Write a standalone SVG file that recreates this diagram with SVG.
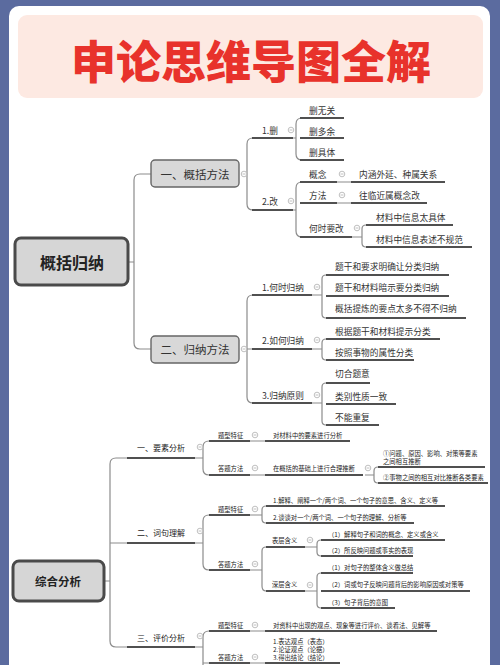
<svg xmlns="http://www.w3.org/2000/svg" xmlns:xlink="http://www.w3.org/1999/xlink" width="500" height="665" viewBox="0 0 500 665">
<style>
text{font-family:"Noto Sans CJK SC","Noto Sans",sans-serif;fill:#333;dominant-baseline:central}
.a{font-size:8.7px}
.s{font-size:6.3px;fill:#222}
.m{font-size:8px;fill:#222}
.l2{font-size:11.5px;text-anchor:middle}
.root{font-weight:bold;text-anchor:middle;fill:#222}
.c{fill:none;stroke:#8c8c8c;stroke-width:1.2}
.u{fill:none;stroke:#505050;stroke-width:1.9}
.box{fill:#d8d8d8;stroke:#666;stroke-width:1.4}
.rbox{fill:#d6d6d6;stroke:#4a4a4a;stroke-width:3}
</style>
<defs>
<g id="minus"><circle r="2.8" fill="#fff" stroke="#b0b0b0" stroke-width="0.8"/><path d="M-1.5,0H1.5" stroke="#b0b0b0" stroke-width="0.8"/></g>
</defs>
<rect width="500" height="665" fill="#5b6b9f"/>
<rect x="9" y="6" width="481" height="720" rx="10" fill="#fff"/>
<rect x="18" y="15" width="465" height="83" rx="9" fill="#fde9e2"/>
<text x="251" y="59" style="font-size:45px;font-weight:900;fill:#e8322b;text-anchor:middle">申论思维导图全解</text>

<g id="connectors">
<path class="c" d="M128,262H134M151,174H140Q134,174 134,180V343Q134,349 140,349H151"/>
<path class="c" d="M241,174H247M262,138H253Q247,138 247,144V204Q247,210 253,210H262"/>
<path class="c" d="M293,138H296M302,118Q296,118 296,124V154Q296,160 302,160"/>
<path class="c" d="M293,210H296M302,182Q296,182 296,188V231Q296,237 302,237"/>
<path class="c" d="M337,182H351M337,203H351M352,237H362M366,225Q362,225 362,229V243Q362,247 366,247"/>
<path class="c" d="M241,349H253M262,295H253Q247,295 247,301V397Q247,403 253,403H262"/>
<path class="c" d="M312,295H322M326,275Q322,275 322,279V314Q322,318 326,318"/>
<path class="c" d="M312,349H322M326,339Q322,339 322,343V356Q322,360 326,360"/>
<path class="c" d="M312,403H322M326,383Q322,383 322,387V421Q322,425 326,425"/>
<path class="c" d="M104,581H110M127,458H116Q110,458 110,464V641Q110,647 116,647H127M110,543H127"/>
<path class="c" d="M195,458H203M209,441Q203,441 203,447V469Q203,475 209,475"/>
<path class="c" d="M250,441H265M250,475H265M365,475H374M378,467Q374,467 374,471V479Q374,483 378,483"/>
<path class="c" d="M195,543H203M209,515Q203,515 203,521V564Q203,570 209,570"/>
<path class="c" d="M250,515H262M266,506Q262,506 262,510V519Q262,523 266,523"/>
<path class="c" d="M250,570H262M266,547Q262,547 262,551V586Q262,591 266,591"/>
<path class="c" d="M305,547H317M321,540Q317,540 317,544V552Q317,556 321,556"/>
<path class="c" d="M305,591H317M321,573Q317,573 317,577V604Q317,608 321,608"/>
<path class="c" d="M195,647H203M209,631Q203,631 203,637V670"/>
<path class="c" d="M250,631H265M203,663H265"/>
</g>

<g id="root1"><rect class="rbox" x="15" y="238" width="113" height="47" rx="6"/><text class="root" x="72" y="262" style="font-size:16px">概括归纳</text></g>
<g id="n-gkff"><rect class="box" x="151" y="160" width="88" height="27" rx="4"/><text class="l2" x="195" y="174">一、概括方法</text><use href="#minus" x="244" y="174"/></g>
<g id="n-gnff"><rect class="box" x="151" y="336" width="88" height="27" rx="4"/><text class="l2" x="195" y="349">二、归纳方法</text><use href="#minus" x="244" y="349"/></g>

<g id="n-shan"><path class="u" d="M252,138H293"/><text class="a" x="262" y="130">1.删</text><use href="#minus" x="291" y="130"/></g>
<g id="n-s1"><path class="u" d="M300,118H344"/><text class="a" x="309" y="110">删无关</text></g>
<g id="n-s2"><path class="u" d="M300,138H344"/><text class="a" x="309" y="131">删多余</text></g>
<g id="n-s3"><path class="u" d="M300,160H344"/><text class="a" x="309" y="152">删具体</text></g>
<g id="n-gai"><path class="u" d="M252,210H293"/><text class="a" x="262" y="201">2.改</text><use href="#minus" x="291" y="201"/></g>
<g id="n-gn"><path class="u" d="M300,182H337"/><text class="a" x="309" y="174">概念</text><use href="#minus" x="342" y="174"/></g>
<g id="n-gn1"><path class="u" d="M351,182H445"/><text class="a" x="359" y="174">内涵外延、种属关系</text></g>
<g id="n-ff"><path class="u" d="M300,203H337"/><text class="a" x="309" y="195">方法</text><use href="#minus" x="342" y="195"/></g>
<g id="n-ff1"><path class="u" d="M351,203H427"/><text class="a" x="359" y="195">往临近属概念改</text></g>
<g id="n-hsyg"><path class="u" d="M300,237H352"/><text class="a" x="309" y="228">何时要改</text><use href="#minus" x="357" y="228"/></g>
<g id="n-hs1"><path class="u" d="M366,225H453"/><text class="a" x="376" y="217">材料中信息太具体</text></g>
<g id="n-hs2"><path class="u" d="M366,247H472"/><text class="a" x="376" y="239">材料中信息表述不规范</text></g>

<g id="n-hsgn"><path class="u" d="M252,295H312"/><text class="a" x="262" y="287">1.何时归纳</text><use href="#minus" x="317" y="287"/></g>
<g id="n-h1"><path class="u" d="M326,275H449"/><text class="a" x="335" y="266">题干和要求明确让分类归纳</text></g>
<g id="n-h2"><path class="u" d="M326,296H449"/><text class="a" x="335" y="287">题干和材料暗示要分类归纳</text></g>
<g id="n-h3"><path class="u" d="M326,318H466"/><text class="a" x="335" y="308">概括提炼的要点太多不得不归纳</text></g>
<g id="n-rhgn"><path class="u" d="M252,349H312"/><text class="a" x="262" y="340">2.如何归纳</text><use href="#minus" x="317" y="340"/></g>
<g id="n-r1"><path class="u" d="M326,339H440"/><text class="a" x="335" y="331">根据题干和材料提示分类</text></g>
<g id="n-r2"><path class="u" d="M326,360H414"/><text class="a" x="335" y="352">按照事物的属性分类</text></g>
<g id="n-gnyz"><path class="u" d="M252,403H312"/><text class="a" x="262" y="395">3.归纳原则</text><use href="#minus" x="317" y="395"/></g>
<g id="n-y1"><path class="u" d="M326,383H370"/><text class="a" x="335" y="373">切合题意</text></g>
<g id="n-y2"><path class="u" d="M326,404H396"/><text class="a" x="335" y="396">类别性质一致</text></g>
<g id="n-y3"><path class="u" d="M326,425H379"/><text class="a" x="335" y="417">不能重复</text></g>

<g id="root2"><rect class="rbox" x="13" y="561" width="91" height="40" rx="6"/><text class="root" x="58" y="581" style="font-size:11.5px">综合分析</text></g>
<g id="n-ysfx"><path class="u" d="M127,458H195"/><text class="m" x="137" y="447">一、要素分析</text><use href="#minus" x="200" y="447"/></g>
<g id="n-ys-tx"><path class="u" d="M209,441H250"/><text class="s" x="218" y="435">题型特征</text><use href="#minus" x="255" y="435"/></g>
<g id="n-ys-tx1"><path class="u" d="M265,441H350"/><text class="s" x="273" y="435">对材料中的要素进行分析</text></g>
<g id="n-ys-dt"><path class="u" d="M209,475H250"/><text class="s" x="218" y="468">答题方法</text><use href="#minus" x="255" y="468"/></g>
<g id="n-ys-dt1"><path class="u" d="M265,475H363"/><text class="s" x="273" y="468">在概括的基础上进行合理推断</text><use href="#minus" x="368" y="468"/></g>
<g id="n-ys-a"><path class="u" d="M378,467H485"/><text class="s" x="383" y="453">①问题、原因、影响、对策等要素</text><text class="s" x="383" y="461">之间相互推断</text></g>
<g id="n-ys-b"><path class="u" d="M378,483H488"/><text class="s" x="383" y="477">②事物之间的相互对比推断各类要素</text></g>

<g id="n-cjlj"><path class="u" d="M127,543H195"/><text class="m" x="137" y="532">二、词句理解</text><use href="#minus" x="200" y="531"/></g>
<g id="n-cj-tx"><path class="u" d="M209,515H250"/><text class="s" x="218" y="509">题型特征</text><use href="#minus" x="255" y="509"/></g>
<g id="n-cj-t1"><path class="u" d="M266,506H445"/><text class="s" x="273" y="500">1.解释、阐释一个/两个词、一个句子的意思、含义、定义等</text></g>
<g id="n-cj-t2"><path class="u" d="M266,523H414"/><text class="s" x="273" y="517">2.谈谈对一个/两个词、一个句子的理解、分析等</text></g>
<g id="n-cj-dt"><path class="u" d="M209,570H250"/><text class="s" x="218" y="564">答题方法</text><use href="#minus" x="255" y="564"/></g>
<g id="n-bchy"><path class="u" d="M266,547H305"/><text class="s" x="272" y="540">表层含义</text><use href="#minus" x="310" y="540"/></g>
<g id="n-b1"><path class="u" d="M321,540H445"/><text class="s" x="328" y="534">（1）解释句子和词的概念、定义或含义</text></g>
<g id="n-b2"><path class="u" d="M321,556H413"/><text class="s" x="328" y="550">（2）所反映问题或事实的表现</text></g>
<g id="n-scyh"><path class="u" d="M266,591H305"/><text class="s" x="272" y="584">深层含义</text><use href="#minus" x="310" y="585"/></g>
<g id="n-d1"><path class="u" d="M321,573H413"/><text class="s" x="328" y="567">（1）对句子的整体含义做总结</text></g>
<g id="n-d2"><path class="u" d="M321,591H470"/><text class="s" x="328" y="584">（2）词或句子反映问题背后的影响原因或对策等</text></g>
<g id="n-d3"><path class="u" d="M321,608H395"/><text class="s" x="328" y="602">（3）句子背后的意图</text></g>

<g id="n-pjfx"><path class="u" d="M127,647H195"/><text class="m" x="137" y="637">三、评价分析</text><use href="#minus" x="200" y="636"/></g>
<g id="n-pj-tx"><path class="u" d="M209,631H250"/><text class="s" x="218" y="625">题型特征</text><use href="#minus" x="255" y="625"/></g>
<g id="n-pj-t1"><path class="u" d="M265,631H437"/><text class="s" x="273" y="625">对资料中出现的观点、现象等进行评价、谈看法、见解等</text></g>
<g id="n-pj-dt"><path class="u" d="M209,663H250"/><text class="s" x="218" y="657">答题方法</text><use href="#minus" x="255" y="657"/></g>
<g id="n-pj-d1"><path class="u" d="M265,663H340"/><text class="s" x="273" y="641">1.表达观点（表态）</text><text class="s" x="273" y="649">2.论证观点（论据）</text><text class="s" x="273" y="657">3.得出结论（结论）</text></g>
</svg>
